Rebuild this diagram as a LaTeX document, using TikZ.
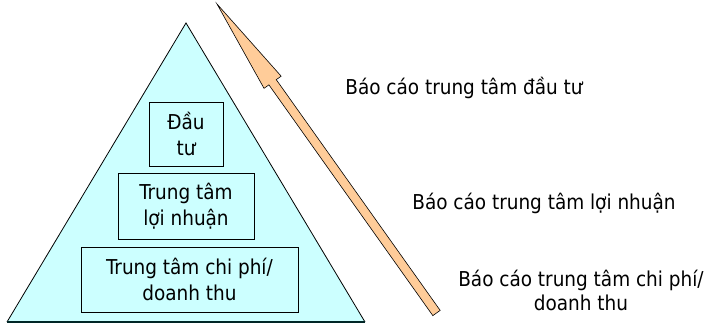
\documentclass[tikz,border=0pt]{standalone}
\usepackage{fontspec}
\setmainfont{DejaVu Sans Condensed}
\usetikzlibrary{calc}
\definecolor{tri}{HTML}{CCFFFF}
\definecolor{peach}{HTML}{FFCC99}
\tikzset{
  lvl/.style={draw, fill=tri, align=center, inner sep=0pt, line width=0.8pt},
  rep/.style={align=center, inner sep=0pt},
}
\begin{document}
\begin{tikzpicture}[x=1pt, y=-1pt, font=\fontsize{20.5}{26}\selectfont]
\useasboundingbox (0,0) rectangle (710,323);
% pyramid
\coordinate (top) at (186,23);
\coordinate (bl) at (7,322);
\coordinate (br) at (365,322);
\fill[tri] (top) -- (br) -- (bl) -- cycle;
\draw[line width=0.8pt] (bl) -- (top) -- (br);
\draw[line width=1.2pt, black!70!teal] (bl) -- (br);
% levels
\node(1) at (186,134) [lvl, minimum width=74, minimum height=64] {Đầu\\tư};
\node(2) at (186,206) [lvl, minimum width=136, minimum height=66] {Trung tâm\\lợi nhuận};
\node(3) at (189.5,279.5) [lvl, minimum width=217, minimum height=65] {Trung tâm chi phí/\\doanh thu};
% reporting arrow
\coordinate (tail) at (436.5,313);
\coordinate (tip) at (217,4);
\coordinate (neck) at ($(tip)!96pt!(tail)$);
\draw[fill=peach, line width=0.6pt, line join=miter]
  (tip) -- ($(neck)!10.5pt!90:(tip)$) -- ($(neck)!4.5pt!90:(tip)$)
  -- ($(tail)!4.5pt!90:(tip)$) -- ($(tail)!4.5pt!-90:(tip)$)
  -- ($(neck)!4.5pt!-90:(tip)$) -- ($(neck)!10.5pt!-90:(tip)$) -- cycle;
% reports
\node(11) at (464,88) [rep] {Báo cáo trung tâm đầu tư};
\node(21) at (544,203) [rep] {Báo cáo trung tâm lợi nhuận};
\node(31) at (581,290) [rep, font=\fontsize{20.5}{24}\selectfont] {Báo cáo trung tâm chi phí/\\doanh thu};
\end{tikzpicture}
\end{document}
